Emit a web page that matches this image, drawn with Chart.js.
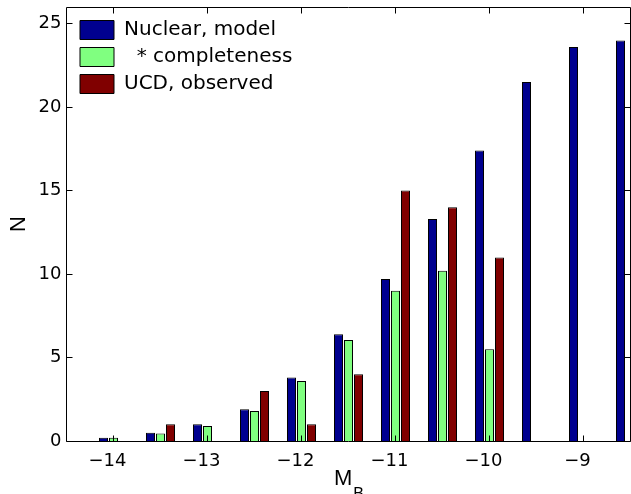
<!DOCTYPE html>
<html>
<head>
<meta charset="utf-8">
<script src="https://cdn.jsdelivr.net/npm/chart.js@4.4.1/dist/chart.umd.min.js"></script>
<style>
  html, body { margin: 0; padding: 0; background: #fff; }
</style>
</head>
<body>
<canvas id="hist" width="631" height="494"></canvas>
<script>
// magnitude bins (M_B) and number of objects per bin
const binCenters = [-14, -13.5, -13, -12.5, -12, -11.5, -11, -10.5, -10, -9.5, -9, -8.5];
const nuclearModel = [0.2, 0.5, 1.0, 1.9, 3.8, 6.4, 9.7, 13.3, 17.4, 21.5, 23.6, 24.0];
const completeness = [0.2, 0.45, 0.9, 1.8, 3.6, 6.05, 9.0, 10.2, 5.5, 0, 0, 0];
const ucdObserved = [0, 1, 0, 3, 1, 4, 15, 14, 11, 0, 0, 0];

const seriesLabels = ['Nuclear, model', '  * completeness', 'UCD, observed'];
const seriesColors = ['#00008f', '#80ff80', '#800000'];

const xTickValues = [-14, -13, -12, -11, -10, -9];
const yTickValues = [0, 5, 10, 15, 20, 25];

const FONT = 'DejaVu Sans, Verdana, sans-serif';
const TITLE_FONT = 'Liberation Sans, Arial, Helvetica, sans-serif';

// box around the axes with inward tick marks, plus the M_B label
const axesBox = {
    id: 'axesBox',
    afterLayout(chart) {
        // keep the legend in the upper left corner of the plot
        const lg = chart.legend;
        if (lg) {
            lg.left = Math.floor(chart.chartArea.left) + 7;
            lg.top = chart.chartArea.top + 6;
        }
    },
    afterDraw(chart) {
        const { ctx, chartArea: a, scales: { x, y } } = chart;
        const len = 6;
        const L = Math.floor(a.left) + 0.5, R = Math.floor(a.right) + 0.5;
        const T = Math.floor(a.top) + 0.5, B = Math.floor(a.bottom) + 0.5;
        ctx.save();
        ctx.strokeStyle = '#000';
        ctx.lineWidth = 1;
        ctx.beginPath();
        ctx.rect(L, T, R - L, B - T);
        xTickValues.forEach(v => {
            const px = Math.floor(x.getPixelForValue(v)) + 0.5;
            ctx.moveTo(px, B);
            ctx.lineTo(px, B - len);
            ctx.moveTo(px, T);
            ctx.lineTo(px, T + len);
        });
        yTickValues.forEach(v => {
            const py = Math.floor(y.getPixelForValue(v)) + 0.5;
            ctx.moveTo(L, py);
            ctx.lineTo(L + len, py);
            ctx.moveTo(R, py);
            ctx.lineTo(R - len, py);
        });
        ctx.stroke();

        // x title with subscript
        ctx.fillStyle = '#000';
        ctx.textBaseline = 'alphabetic';
        ctx.textAlign = 'left';
        ctx.font = '22px ' + TITLE_FONT;
        const mW = ctx.measureText('M').width;
        ctx.font = '16px ' + TITLE_FONT;
        const bW = ctx.measureText('B').width;
        const cx = (a.left + a.right) / 2;
        const x0 = cx - (mW + bW) / 2;
        ctx.font = '22px ' + TITLE_FONT;
        ctx.fillText('M', x0, 485);
        ctx.font = '16px ' + TITLE_FONT;
        ctx.fillText('B', x0 + mW + 1, 499);
        ctx.restore();
    }
};

const series = [nuclearModel, completeness, ucdObserved];

const data = {
    datasets: seriesLabels.map((label, i) => ({
        label: label,
        data: binCenters.map((m, j) => ({ x: m, y: series[i][j] })),
        backgroundColor: seriesColors[i],
        borderColor: '#000',
        borderWidth: 1,
        inflateAmount: 0,
        categoryPercentage: 30 / 47,
        barPercentage: 0.9
    }))
};

const config = {
    type: 'bar',
    data: data,
    options: {
        responsive: false,
        animation: false,
        layout: { padding: { top: 7, right: 0.5, left: 0, bottom: 0 } },
        plugins: {
            legend: {
                position: 'chartArea',
                align: 'start',
                labels: {
                    boxWidth: 34,
                    boxHeight: 19,
                    padding: 7,
                    color: '#000',
                    font: { family: FONT, size: 20 }
                }
            },
            tooltip: { enabled: false }
        },
        scales: {
            x: {
                type: 'linear',
                offset: false,
                min: -14.5,
                max: -8.5,
                grid: { display: false, drawTicks: false },
                border: { display: false },
                afterBuildTicks: s => { s.ticks = xTickValues.map(v => ({ value: v })); },
                afterFit: s => { s.height = 53; },
                ticks: {
                    color: '#000',
                    padding: 10,
                    labelOffset: -6,
                    maxRotation: 0,
                    font: { family: FONT, size: 18 },
                    callback: v => (v < 0 ? '\u2212' : '') + Math.abs(v)
                }
            },
            y: {
                min: 0,
                max: 26,
                grid: { display: false, drawTicks: false },
                border: { display: false },
                afterBuildTicks: s => { s.ticks = yTickValues.map(v => ({ value: v })); },
                afterFit: s => {
                    s.width = 66.5;
                    s.paddingTop = 0;
                    s.paddingBottom = 0;
                },
                ticks: {
                    color: '#000',
                    padding: 5,
                    font: { family: FONT, size: 18 }
                },
                title: {
                    display: true,
                    text: 'N',
                    color: '#000',
                    padding: { top: 6, bottom: 0 },
                    font: { family: TITLE_FONT, size: 22 }
                }
            }
        }
    },
    plugins: [axesBox]
};

new Chart(document.getElementById('hist').getContext('2d'), config);
</script>
</body>
</html>
